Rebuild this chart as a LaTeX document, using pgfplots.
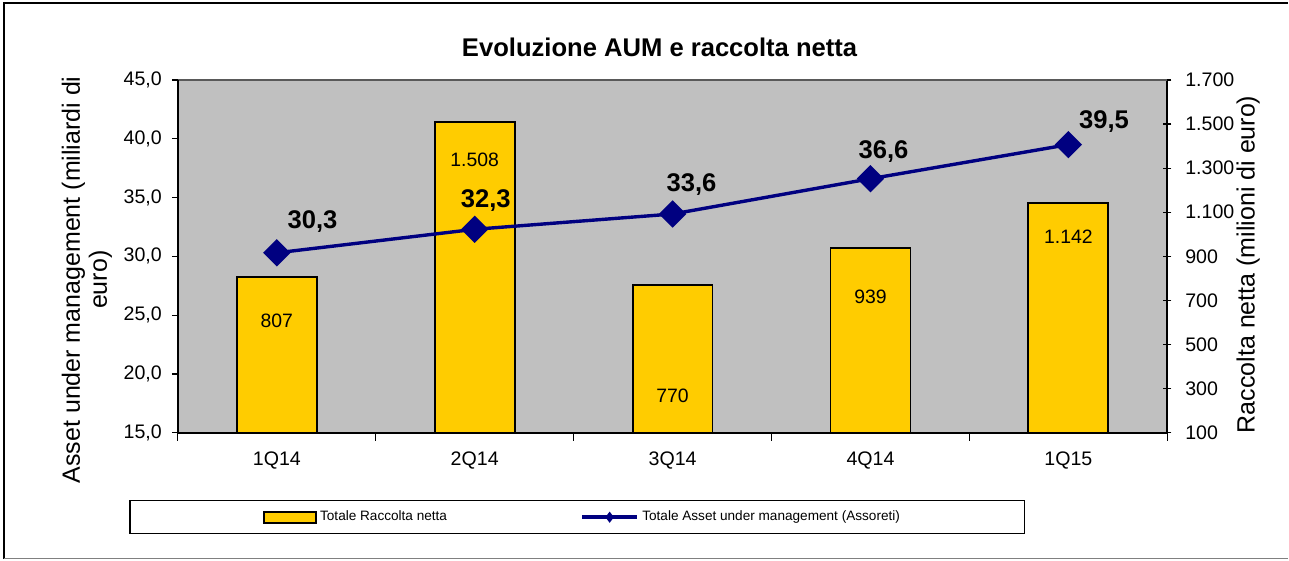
\documentclass[border=0pt]{standalone}
\usepackage{fontspec}
\setmainfont{Liberation Sans}
\usepackage{pgfplots}
\pgfplotsset{compat=1.18}
\definecolor{plotgray}{HTML}{C0C0C0}
\definecolor{barY}{HTML}{FFCC00}
\definecolor{navyL}{HTML}{000080}
\begin{document}
\begin{tikzpicture}
\path (0,0) rectangle (644.5pt,280.5pt);
\draw[black, line width=0.8pt] (2pt,0.8pt) -- (2pt,279pt) -- (644.5pt,279pt);
\draw[gray, line width=0.8pt] (2pt,1pt) -- (644.5pt,1pt);
\node[font=\fontsize{12.8}{15}\selectfont\bfseries] at (330pt,257pt) {Evoluzione AUM e raccolta netta};
\node[rotate=90, align=center, font=\fontsize{12.5}{13.5}\selectfont] at (43.5pt,140.5pt) {Asset under management (miliardi di\\euro)};
\node[rotate=90, font=\fontsize{12.5}{14}\selectfont] at (624.5pt,148.25pt) {Raccolta netta (milioni di euro)};
\draw[black, line width=0.6pt, fill=white] (65pt,13.5pt) rectangle (512.5pt,30pt);

\begin{axis}[
  at={(89pt,64pt)}, anchor=south west, scale only axis,
  width=495pt, height=176.5pt,
  xmin=-0.5, xmax=4.5, ymin=100, ymax=1700,
  axis y line*=right, axis x line*=bottom,
  axis line style={black, line width=0.8pt},
  axis background/.style={fill=plotgray},
  ytick={100,300,...,1700},
  yticklabels={100,300,500,700,900,1.100,1.300,1.500,1.700},
  xtick={-0.5,0.5,1.5,2.5,3.5,4.5}, xticklabels={},
  extra x ticks={0,1,2,3,4},
  extra x tick labels={1Q14,2Q14,3Q14,4Q14,1Q15},
  extra x tick style={major tick length=0pt},
  xtick align=outside, ytick align=center,
  major tick length=4pt,
  tick style={black, line width=0.6pt},
  tick label style={font=\fontsize{9.8}{11}\selectfont},
  xticklabel style={yshift=-6pt},
  yticklabel style={xshift=3.5pt},
]
\addplot[ybar, bar width=40pt, fill=barY, draw=black, line width=0.9pt]
  coordinates {(0,807) (1,1508) (2,770) (3,939) (4,1142)};
\draw[gray!70!black, line width=0.6pt] (rel axis cs:0,1) -- (rel axis cs:1,1);
\begin{scope}[font=\fontsize{9.7}{11}\selectfont]
\node at (axis cs:0,608) {807};
\node at (axis cs:1,1337) {1.508};
\node at (axis cs:2,268) {770};
\node at (axis cs:3,716) {939};
\node at (axis cs:4,988) {1.142};
\end{scope}
\end{axis}

\begin{axis}[
  at={(89pt,64pt)}, anchor=south west, scale only axis,
  width=495pt, height=176.5pt,
  xmin=-0.5, xmax=4.5, ymin=15, ymax=45,
  axis y line*=left, axis x line=none,
  axis line style={black, line width=0.8pt},
  ytick={15,20,...,45},
  yticklabels={{15,0},{20,0},{25,0},{30,0},{35,0},{40,0},{45,0}},
  ytick align=outside, major tick length=3pt,
  tick style={black, line width=0.6pt},
  tick label style={font=\fontsize{9.8}{11}\selectfont},
  yticklabel style={xshift=-1.5pt},
  clip=false,
  legend columns=2,
  legend style={at={(0.4086,-0.2394)}, anchor=center, draw=none, fill=none,
    font=\fontsize{6.8}{8}\selectfont, nodes={inner sep=0.6pt},
    /tikz/every odd column/.append style={column sep=1pt},
    /tikz/every even column/.append style={column sep=66pt}},
]
\addlegendimage{legend image code/.code={\draw[fill=barY, draw=black, line width=0.9pt] (0pt,-2.75pt) rectangle (26pt,2.75pt);}}
\addlegendentry{Totale Raccolta netta}
\addplot[navyL, line width=1.7pt, mark=square*, mark size=4pt, mark options={rotate=45, solid},
  legend image code/.code={\draw[navyL, line width=2pt] (0pt,0pt) -- (27.5pt,0pt);
  \fill[navyL] (13.75pt,1.4pt) -- (14.8pt,0pt) -- (13.75pt,-1.4pt) -- (12.7pt,0pt) -- cycle;}]
  coordinates {(0,30.3) (1,32.3) (2,33.6) (3,36.6) (4,39.5)};
\addlegendentry{Totale Asset under management (Assoreti)}
\begin{scope}[font=\fontsize{12.8}{15}\selectfont\bfseries]
\node at (axis cs:0.18,32.93) {30,3};
\node at (axis cs:1.056,34.72) {32,3};
\node at (axis cs:2.096,36.08) {33,6};
\node at (axis cs:3.066,38.88) {36,6};
\node at (axis cs:4.18,41.43) {39,5};
\end{scope}
\end{axis}
\end{tikzpicture}
\end{document}
